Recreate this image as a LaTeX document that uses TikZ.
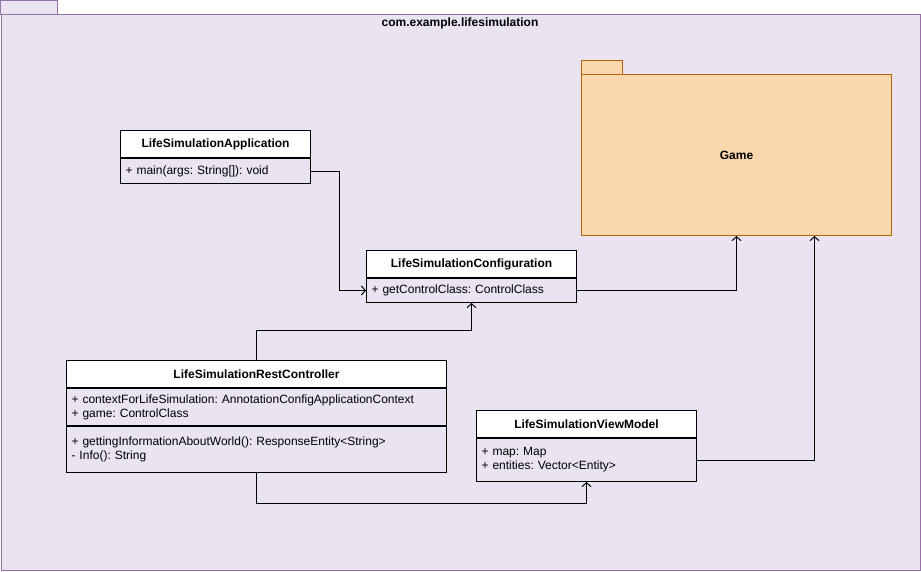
\documentclass[tikz,border=0pt]{standalone}
\usepackage{fontspec}
\setmainfont{Liberation Sans}
\usetikzlibrary{arrows.meta, positioning}
\definecolor{pkgfill}{RGB}{233,227,242}
\definecolor{pkgline}{RGB}{150,115,166}
\definecolor{gamefill}{RGB}{250,215,172}
\definecolor{gameline}{RGB}{180,101,4}
\frenchspacing

\begin{document}
\begin{tikzpicture}[
      x=1pt, y=-1pt,
      font=\fontsize{12}{14}\selectfont,
      hdr/.style={draw, fill=white, line width=1pt, anchor=north west,
                  minimum height=27pt, inner sep=0pt, font=\fontsize{12}{14}\selectfont\bfseries},
      cmp/.style={draw, line width=1pt, anchor=north west, align=left,
                  inner xsep=5pt, inner ysep=0pt},
      dep/.style={-{Straight Barb[length=4pt,width=9pt]}, line width=1pt}
    ]
    \useasboundingbox (0,0) rectangle (921,571);

    % package frame
    \draw[fill=pkgfill, draw=pkgline, line width=1pt] (0.5,0.5) rectangle (57,14);
    \node[draw=pkgline, fill=pkgfill, line width=1pt, anchor=north west,
          minimum width=919.5pt, minimum height=556pt, inner sep=0pt] (pkg) at (0.5,14) {};
    \node[font=\fontsize{12}{14}\selectfont\bfseries] (pkgname) at (460,23) {com.example.lifesimulation};

    \node[draw=gameline, fill=gamefill, line width=1pt, anchor=north west,
          minimum width=310pt, minimum height=161pt, inner sep=0pt,
          font=\fontsize{12}{14}\selectfont\bfseries] (game) at (581,74) {Game};
    \draw[draw=gameline, fill=gamefill, line width=1pt]
      (game.north west) rectangle ([xshift=41pt, yshift=14pt]game.north west);

    % classes
    \node[hdr, minimum width=190pt] (appH) at (120,130) {LifeSimulationApplication};
    \node[cmp, text width=180pt, minimum height=25pt] (appB) at (appH.south west)
      {+ main(args: String[]): void};

    \node[hdr, minimum width=210pt] (confH) at (366,250) {LifeSimulationConfiguration};
    \node[cmp, text width=200pt, minimum height=24pt] (confB) at (confH.south west)
      {+ getControlClass: ControlClass};

    \node[hdr, minimum width=380pt] (rcH) at (66,360) {LifeSimulationRestController};
    \node[cmp, text width=370pt, minimum height=37pt] (rcA) at (rcH.south west)
      {+ contextForLifeSimulation: AnnotationConfigApplicationContext\\+ game: ControlClass};
    \node[cmp, text width=370pt, minimum height=46pt] (rcM) at (rcA.south west)
      {+ gettingInformationAboutWorld(): ResponseEntity<String>\\- Info(): String};

    \node[hdr, minimum width=220pt] (vmH) at (476,410) {LifeSimulationViewModel};
    \node[cmp, text width=210pt, minimum height=43pt] (vmB) at (vmH.south west)
      {+ map: Map\\+ entities: Vector<Entity>};

    \draw[dep] (appB.east) -- ++(28,0) |- (confB.west);
    \draw[dep] (confB.east) -| (game.south);
    \draw[dep] (rcH.north) -- ++(0,-30) -| (confB.south);
    \draw[dep] (rcM.south) -- ++(0,30) -| (vmB.south);
    \draw[dep] (vmB.east) -| ([xshift=78pt]game.south);
  \end{tikzpicture}
\end{document}
